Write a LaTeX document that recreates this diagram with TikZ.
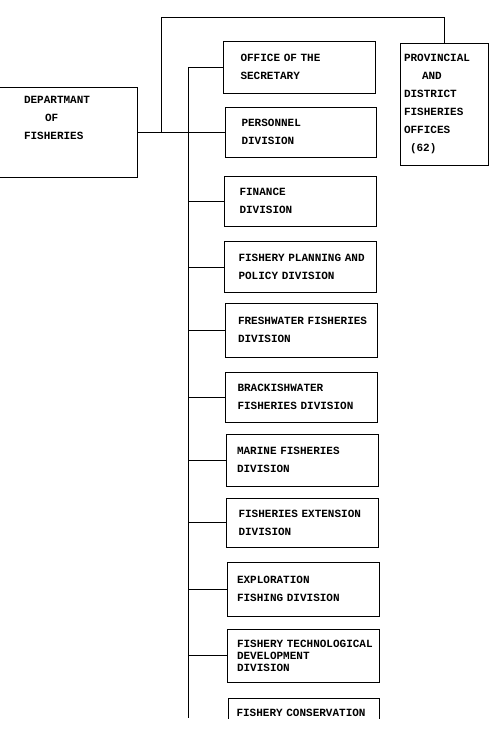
\documentclass[tikz,border=0pt]{standalone}
\usepackage{fontspec}
\setmonofont{Liberation Mono}
\usetikzlibrary{positioning, calc}

\begin{document}
\begin{tikzpicture}[
    x=1pt, y=-1pt,
    box/.style={draw, line width=0.8pt, minimum width=152pt, minimum height=#1, text width=142pt, inner xsep=0pt, inner ysep=2pt, align=left, font=\ttfamily\bfseries\fontsize{11}{18}\selectfont, execute at begin node={\leftskip=8pt}},
    indent/.style={execute at begin node={\leftskip=#1}},
    link/.style={line width=1pt},
]
\useasboundingbox (0,0) rectangle (500,744);
\begin{scope}
\clip (0,0) rectangle (500,718);

% Department
\node[box=90pt, minimum width=140pt, text width=86pt, inner xsep=27pt, indent=0pt] (dept) at (67,132) {DEPARTMANT\\\hspace*{21pt}OF\\FISHERIES\\[10pt]\mbox{}};

% Provincial offices
\node[box=122pt, minimum width=88pt, text width=80pt, inner xsep=4pt, indent=0pt] (prov) at (444,104) {PROVINCIAL\\\hspace*{18pt}AND\\DISTRICT\\FISHERIES\\OFFICES\\\hspace*{6pt}(62)};

% Divisions
\node[box=52pt, indent=12pt] (office) at (299.5,67) {OFFICE OF THE\\SECRETARY};
\node[box=50pt, minimum width=151pt, indent=12pt] (pers) at (300.5,132) {PERSONNEL\\DIVISION};
\node[box=50pt, indent=10pt] (fin) at (300.5,201) {FINANCE\\DIVISION};
\node[box=51pt, indent=9pt] (plan) at (300.5,267) {FISHERY PLANNING AND\\POLICY DIVISION};
\node[box=54pt] (fresh) at (301,330) {FRESHWATER FISHERIES\\DIVISION};
\node[box=50pt, indent=7pt] (brack) at (301.5,397) {BRACKISHWATER\\FISHERIES DIVISION};
\node[box=52pt, indent=6pt] (marine) at (302,460) {MARINE FISHERIES\\DIVISION};
\node[box=49pt, indent=7pt] (ext) at (302.5,522.5) {FISHERIES EXTENSION\\DIVISION};
\node[box=54pt, indent=5pt] (explo) at (303,589) {EXPLORATION\\FISHING DIVISION};
\node[box=53pt, text width=150pt, indent=9pt, font=\ttfamily\bfseries\fontsize{11}{12}\selectfont] (tech) at (303,655.5) {FISHERY TECHNOLOGICAL\\DEVELOPMENT\\DIVISION};
\node[box=30pt, minimum width=151pt, indent=4pt] (cons) at (303.5,713) {FISHERY CONSERVATION};

% Main line and branch to provincial offices
\coordinate (spine) at (188,0);
\coordinate (branch) at (161,132);
\draw[link] (dept.east) -- (pers.west);
\draw[link] (branch) -- ++(0,-115) -| (prov.north);

% Spine to divisions
\draw[link] (spine |- office.west) -- (188,718);
\foreach \d in {office, fin, plan, fresh, brack, marine, ext, explo, tech}
    \draw[link] (spine |- \d.west) -- (\d.west);
\end{scope}
\end{tikzpicture}
\end{document}
